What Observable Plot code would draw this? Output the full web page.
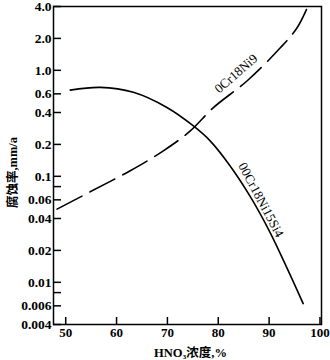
<!DOCTYPE html>
<html>
<head>
<meta charset="utf-8">
<script src="https://cdn.jsdelivr.net/npm/d3@7"></script>
<script src="https://cdn.jsdelivr.net/npm/@observablehq/plot@0.6"></script>
<style>
  html, body { margin: 0; padding: 0; background: #fff; }
</style>
</head>
<body>
<div id="chart"></div>
<script>
// Series: 0Cr18Ni9 (dashed)
const ni9X = [48.3, 54.8, 62.7, 69.2, 74.5, 79.0, 85.7, 92.2, 95.5, 97.6];
const ni9Y = [0.049, 0.0714, 0.113, 0.174, 0.268, 0.443, 0.797, 1.63, 2.52, 4.0];
// Series: 00Cr18Ni15Si4 (solid)
const si4X = [50.9, 56.8, 63.3, 69.9, 75.05, 78.4, 82.3, 86.3, 90.2, 93.5, 96.7];
const si4Y = [0.65, 0.69, 0.62, 0.446, 0.30, 0.216, 0.126, 0.0643, 0.0295, 0.0137, 0.0063];
const seriesNames = ["0Cr18Ni9", "00Cr18Ni15Si4"];

const xTicks = [50, 60, 70, 80, 90, 100];
const xTickLabels = ["50", "60", "70", "80", "90", "100"];
const yTicks = [4, 2, 1, 0.6, 0.4, 0.2, 0.1, 0.08, 0.06, 0.04, 0.02, 0.01, 0.008, 0.006, 0.004];
const yTickLabels = ["4.0", "2.0", "1.0", "0.6", "0.4", "0.2", "0.1", "", "0.06", "0.04", "0.02", "0.01", "", "0.006", "0.004"];
const xTitle = "HNO₃浓度,%";
const yTitle = "腐蚀率,mm/a";

const ni9 = ni9X.map((x, i) => ({x, y: ni9Y[i]}));
const si4 = si4X.map((x, i) => ({x, y: si4Y[i]}));
const xT = xTicks.map((v, i) => ({v, label: xTickLabels[i]}));
const yT = yTicks.map((v, i) => ({v, label: yTickLabels[i]}));

const W = 330, H = 360, mL = 53, mR = 9, mT = 6, mB = 36;
const plotW = W - mL - mR, plotH = H - mT - mB;
const serif = '"Liberation Serif", "Noto Sans CJK SC", serif';

const chart = Plot.plot({
  width: W, height: H,
  marginLeft: mL, marginRight: mR, marginTop: mT, marginBottom: mB,
  x: {domain: [47.6, 100.3], axis: null},
  y: {type: "log", domain: [0.004, 4], axis: null},
  style: {fontFamily: serif, fontSize: "13px", fontWeight: "bold", color: "#000", background: "#fff"},
  marks: [
    Plot.frame({stroke: "#000", strokeWidth: 1.5}),
    Plot.tickX(xT, {x: "v", insetTop: plotH - 7, stroke: "#000", strokeWidth: 1.5}),
    Plot.tickY(yT, {y: "v", insetRight: plotW - 8, stroke: "#000", strokeWidth: 1.5}),
    Plot.text(xT, {x: "v", text: "label", frameAnchor: "bottom", lineAnchor: "top", dy: 3, fontSize: 13, fontWeight: "bold", fill: "#000"}),
    Plot.text(yT, {y: "v", text: "label", frameAnchor: "left", textAnchor: "end", dx: -2, fontSize: 13.5, fontWeight: "bold", fill: "#000"}),
    Plot.line(ni9, {x: "x", y: "y", curve: "catmull-rom", stroke: "#000", strokeWidth: 1.6, strokeDasharray: "28,9"}),
    Plot.line(si4, {x: "x", y: "y", curve: "catmull-rom", stroke: "#000", strokeWidth: 1.6}),
    Plot.text([seriesNames[0]], {x: 83.5, y: 0.93, text: d => d, rotate: -41, fontSize: 13, fontWeight: "normal", fill: "#000"}),
    Plot.text([seriesNames[1]], {x: 88.4, y: 0.06, text: d => d, rotate: 62, fontSize: 13, fontWeight: "normal", fill: "#000"}),
    Plot.text([yTitle], {frameAnchor: "left", textAnchor: "middle", lineAnchor: "middle", dx: -41, dy: 7, rotate: -90, text: d => d, fontSize: 12.5, fontWeight: "bold", fill: "#000"}),
    Plot.text([xTitle], {frameAnchor: "bottom", textAnchor: "middle", lineAnchor: "middle", dx: 3, dy: 28, text: d => d, fontSize: 12.5, fontWeight: "bold", fill: "#000"})
  ]
});
document.getElementById("chart").appendChild(chart);
</script>
</body>
</html>
